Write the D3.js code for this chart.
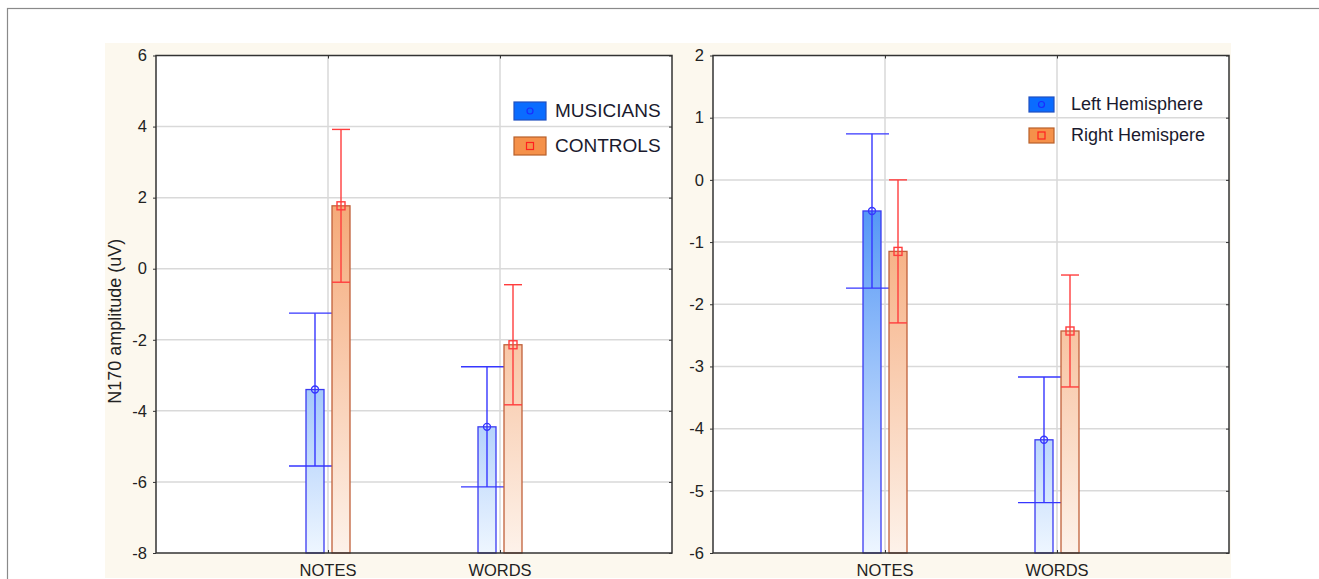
<!DOCTYPE html>
<html>
<head>
<meta charset="utf-8">
<script src="https://cdn.jsdelivr.net/npm/d3@7"></script>
<style>
  body { margin: 0; background: #fff; }
  svg { display: block; font-family: Arial, 'Liberation Sans', sans-serif; }
</style>
</head>
<body>
<svg id="chart"></svg>
<script>
// categories and values
const categories = ['NOTES', 'WORDS']

const musiciansMean = [-3.4, -4.45]
const musiciansErr = [2.15, 1.69]
const controlsMean = [1.77, -2.14]
const controlsErr = [2.15, 1.69]

const leftHemMean = [-0.5, -4.18]
const leftHemErr = [1.24, 1.01]
const rightHemMean = [-1.15, -2.43]
const rightHemErr = [1.15, 0.9]

const leftTicks = [-8, -6, -4, -2, 0, 2, 4, 6]
const rightTicks = [-6, -5, -4, -3, -2, -1, 0, 1, 2]

const width = 1319, height = 579

const svg = d3.select('#chart').attr('width', width).attr('height', height)
const defs = svg.append('defs')

// outer frame + cream background
svg.append('rect').attr('x', 7.5).attr('y', 8.5).attr('width', 1330).attr('height', 620)
  .attr('fill', '#fff').attr('stroke', '#8a8a8a').attr('stroke-width', 1.2)
svg.append('rect').attr('x', 105).attr('y', 43).attr('width', 1126).attr('height', 535)
  .attr('fill', '#fcf8ee')

const panels = [
  {
    x0: 156, w: 516, domain: [-8, 6], ticks: leftTicks, yLabel: 'N170 amplitude (uV)',
    series: [
      {name: 'MUSICIANS', mean: musiciansMean, err: musiciansErr, kind: 'blue'},
      {name: 'CONTROLS', mean: controlsMean, err: controlsErr, kind: 'orange'}
    ],
    legend: {x: 514, y: 102, sw: 32, sh: 18, gap: 35, tx: 555, size: 19}
  },
  {
    x0: 713, w: 516, domain: [-6, 2], ticks: rightTicks, yLabel: null,
    series: [
      {name: 'Left Hemisphere', mean: leftHemMean, err: leftHemErr, kind: 'blue'},
      {name: 'Right Hemispere', mean: rightHemMean, err: rightHemErr, kind: 'orange'}
    ],
    legend: {x: 1029, y: 97, sw: 25, sh: 15, gap: 31, tx: 1071, size: 18}
  }
]

const plotTop = 55.5, plotBottom = 553

const style = {
  blue: {g0: '#0f6cf2', g1: '#eef6ff', stroke: '#3a3af2', err: '#3636ff', sw: '#0a6cff', swStroke: '#2150c0', capL: 26, capR: 17},
  orange: {g0: '#f28a48', g1: '#fdf2ea', stroke: '#c0603a', err: '#ff3d3d', sw: '#f5914a', swStroke: '#b8602a', capL: 9, capR: 9}
}

panels.forEach((p, pi) => {
  let scX = d3.scalePoint().domain(categories).range([p.x0, p.x0 + p.w]).padding(1)
  let scY = d3.scaleLinear().domain(p.domain).range([plotBottom, plotTop])
  let sub = d3.scaleBand().domain(p.series.map(s => s.name)).range([-22, 22]).paddingInner(0.308)

  let g = svg.append('g')

  // plot background
  g.append('rect').attr('x', p.x0).attr('y', plotTop).attr('width', p.w).attr('height', plotBottom - plotTop)
    .attr('fill', '#fff')

  // grid
  g.selectAll('.hgrid').data(p.ticks.slice(1, -1)).enter().append('line')
    .attr('x1', p.x0).attr('x2', p.x0 + p.w)
    .attr('y1', d => scY(d)).attr('y2', d => scY(d))
    .attr('stroke', '#d9d9d9').attr('stroke-width', 1.5)
  g.selectAll('.vgrid').data(categories).enter().append('line')
    .attr('x1', d => scX(d)).attr('x2', d => scX(d))
    .attr('y1', plotTop).attr('y2', plotBottom)
    .attr('stroke', '#d9d9d9').attr('stroke-width', 1.5)

  // gradients, anchored to the plot height
  Object.keys(style).forEach(k => {
    let lg = defs.append('linearGradient').attr('id', `grad-${k}-${pi}`)
      .attr('gradientUnits', 'userSpaceOnUse')
      .attr('x1', 0).attr('x2', 0).attr('y1', plotTop).attr('y2', plotBottom)
    lg.append('stop').attr('offset', 0).attr('stop-color', style[k].g0)
    lg.append('stop').attr('offset', 1).attr('stop-color', style[k].g1)
  })

  p.series.forEach(s => {
    let st = style[s.kind]
    let rows = categories.map((c, i) => ({c, m: s.mean[i], e: s.err[i]}))
    let cx = d => scX(d.c) + sub(s.name) + sub.bandwidth() / 2

    g.append('g').selectAll('rect').data(rows).enter().append('rect')
      .attr('x', d => scX(d.c) + sub(s.name))
      .attr('width', sub.bandwidth())
      .attr('y', d => scY(d.m))
      .attr('height', d => plotBottom - scY(d.m))
      .attr('fill', `url(#grad-${s.kind}-${pi})`)
      .attr('stroke', st.stroke).attr('stroke-width', 1.3)

    let eg = g.append('g').attr('stroke', st.err).attr('stroke-width', 1.4).attr('fill', 'none')
    eg.selectAll('.stem').data(rows).enter().append('line')
      .attr('x1', cx).attr('x2', cx)
      .attr('y1', d => scY(d.m + d.e)).attr('y2', d => scY(d.m - d.e))
    ;[1, -1].forEach(sign => {
      eg.selectAll('.cap' + sign).data(rows).enter().append('line')
        .attr('x1', d => cx(d) - st.capL).attr('x2', d => cx(d) + st.capR)
        .attr('y1', d => scY(d.m + sign * d.e)).attr('y2', d => scY(d.m + sign * d.e))
    })
    if (s.kind == 'blue') {
      eg.selectAll('circle').data(rows).enter().append('circle')
        .attr('cx', cx).attr('cy', d => scY(d.m)).attr('r', 3.5)
    } else {
      eg.selectAll('rect').data(rows).enter().append('rect')
        .attr('x', d => cx(d) - 4).attr('y', d => scY(d.m) - 4)
        .attr('width', 8).attr('height', 8)
    }
  })

  // frame
  g.append('rect').attr('x', p.x0).attr('y', plotTop).attr('width', p.w).attr('height', plotBottom - plotTop)
    .attr('fill', 'none').attr('stroke', '#333').attr('stroke-width', 1.5)

  // axes (plain hyphen for negatives, as in the figure)
  let yAxis = d3.axisLeft(scY).tickValues(p.ticks).tickSize(3).tickPadding(6).tickFormat(d => String(d))
  let yg = g.append('g').attr('transform', `translate(${p.x0},0)`).call(yAxis)
  yg.select('.domain').remove()
  yg.selectAll('text').attr('font-size', 16.5).attr('fill', '#222')
  yg.selectAll('line').attr('stroke', '#333')

  let yRight = d3.axisLeft(scY).tickValues(p.ticks).tickSize(3).tickFormat('')
  let yr = g.append('g').attr('transform', `translate(${p.x0 + p.w},0)`).call(yRight)
  yr.select('.domain').remove()
  yr.selectAll('line').attr('stroke', '#333')

  let xAxis = d3.axisTop(scX).tickSize(3).tickPadding(0)
  let xg = g.append('g').attr('transform', `translate(0,${plotBottom})`).call(xAxis)
  xg.select('.domain').remove()
  xg.selectAll('text').remove()
  xg.selectAll('line').attr('stroke', '#333')
  let xt = g.append('g').attr('transform', `translate(0,${plotTop})`).call(d3.axisBottom(scX).tickSize(3))
  xt.select('.domain').remove()
  xt.selectAll('text').remove()
  xt.selectAll('line').attr('stroke', '#333')

  g.selectAll('.cat').data(categories).enter().append('text')
    .attr('x', d => scX(d)).attr('y', 576)
    .attr('text-anchor', 'middle').attr('font-size', 16.5).attr('fill', '#222')
    .text(d => d)

  if (p.yLabel) {
    g.append('text')
      .attr('transform', `translate(121,${(plotTop + plotBottom) / 2 + 17}) rotate(-90)`)
      .attr('text-anchor', 'middle').attr('font-size', 18).attr('fill', '#222')
      .text(p.yLabel)
  }

  // legend
  let L = p.legend
  p.series.forEach((s, i) => {
    let st = style[s.kind]
    let y = L.y + i * L.gap
    g.append('rect').attr('x', L.x).attr('y', y).attr('width', L.sw).attr('height', L.sh)
      .attr('fill', st.sw).attr('stroke', st.swStroke).attr('stroke-width', 1.2)
    if (s.kind == 'blue') {
      g.append('circle').attr('cx', L.x + L.sw / 2).attr('cy', y + L.sh / 2).attr('r', 3)
        .attr('fill', 'none').attr('stroke', '#1a2cff').attr('stroke-width', 1.2)
    } else {
      g.append('rect').attr('x', L.x + L.sw / 2 - 3.5).attr('y', y + L.sh / 2 - 3.5)
        .attr('width', 7).attr('height', 7)
        .attr('fill', 'none').attr('stroke', '#ff2020').attr('stroke-width', 1.2)
    }
    g.append('text').attr('x', L.tx).attr('y', y + L.sh / 2 - 1).attr('dy', '0.36em')
      .attr('font-size', L.size).attr('fill', '#1a1a2e')
      .text(s.name)
  })
})
</script>
</body>
</html>
